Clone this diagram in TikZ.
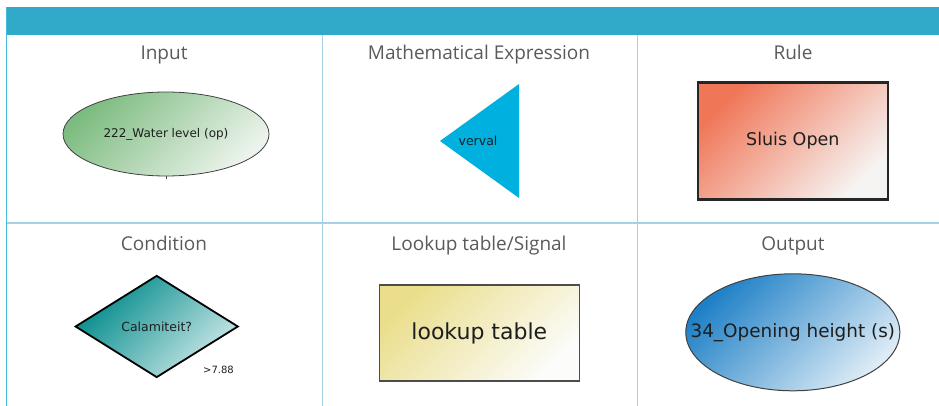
\documentclass[tikz,border=0pt]{standalone}
\usepackage{fontspec}
\setmainfont{DejaVu Sans}
\newfontfamily\hdrfont{Open Sans}
\usetikzlibrary{shapes.geometric}
\definecolor{hdrbar}{RGB}{48,170,200}
\definecolor{edgeblue}{RGB}{70,185,220}
\definecolor{gridblue}{RGB}{165,208,232}
\definecolor{hdrtext}{RGB}{90,90,90}
\definecolor{shtext}{RGB}{30,30,30}
\definecolor{ingreen}{RGB}{125,188,128}
\definecolor{inlight}{RGB}{236,243,236}
\definecolor{trifill}{RGB}{0,176,222}
\definecolor{rulered}{RGB}{240,118,88}
\definecolor{rulelight}{RGB}{246,244,242}
\definecolor{condteal}{RGB}{0,138,138}
\definecolor{condlight}{RGB}{205,232,232}
\definecolor{lookyel}{RGB}{234,222,140}
\definecolor{looklight}{RGB}{252,252,250}
\definecolor{outblue}{RGB}{30,128,198}
\definecolor{outlight}{RGB}{222,236,246}
\tikzset{
  hdr/.style={font=\hdrfont\fontsize{19}{22}\selectfont, text=hdrtext, inner sep=0, anchor=base},
  shapetxt/.style={text=shtext, inner sep=0},
  grad/.style 2 args={top color=#1, bottom color=#2, shading angle=45},
}
\begin{document}
\begin{tikzpicture}[x=1pt,y=-1pt]
\useasboundingbox (0,0) rectangle (939,406);
% table
\fill[hdrbar] (6,7) rectangle (939,35);
\draw[edgeblue, line width=1.5pt] (6.5,7) -- (6.5,406);
\draw[gridblue, line width=1pt] (322,35) -- (322,406);
\draw[gridblue, line width=1pt] (637,35) -- (637,406);
\draw[gridblue, line width=2pt] (7,223) -- (939,223);
% headers
\node[hdr] (h1) at (164,60) {Input};
\node[hdr] (h2) at (479,60) {Mathematical Expression};
\node[hdr] (h3) at (793,60) {Rule};
\node[hdr] (h4) at (164,250) {Condition};
\node[hdr] (h5) at (479,250) {Lookup table/Signal};
\node[hdr] (h6) at (793,250) {Output};
% input ellipse
\node[ellipse, draw=black!75, line width=0.8pt, grad={ingreen}{inlight},
      minimum width=206pt, minimum height=84pt, inner sep=0, text=shtext,
      font=\fontsize{12}{14}\selectfont] (inp) at (166,134) {222\_Water level (op)};
\draw[black!75, line width=0.8pt] (inp.south) -- ++(0,3);
% triangle
\fill[trifill] (440,141) -- (519,84) -- (519,198) -- cycle;
\node[shapetxt, font=\fontsize{12.5}{14}\selectfont] (tri) at (478,141) {verval};
% rule rectangle
\node[rectangle, draw=black!85, line width=2.6pt, grad={rulered}{rulelight},
      minimum width=190pt, minimum height=117pt, inner sep=0, text=shtext,
      font=\fontsize{17.5}{20}\selectfont] (rule) at (792.8,140.8) {Sluis Open};
% condition diamond
\node[diamond, draw=black, line width=1.8pt, grad={condteal}{condlight},
      minimum width=163pt, minimum height=102pt, inner sep=0, text=shtext,
      font=\fontsize{12.5}{14}\selectfont] (cond) at (156.7,326.5) {Calamiteit?};
\node[shapetxt, font=\fontsize{10}{12}\selectfont] (thr) at (218.5,370) {>7.88};
% lookup table
\node[rectangle, draw=black!70, line width=1.6pt, grad={lookyel}{looklight},
      minimum width=200pt, minimum height=96pt, inner sep=0, text=shtext,
      font=\fontsize{22}{26}\selectfont] (look) at (479.3,333) {lookup table};
% output ellipse
\node[ellipse, draw=black!75, line width=1pt, grad={outblue}{outlight},
      minimum width=214pt, minimum height=117pt, inner sep=0] (out) at (792.8,332.3) {};
\node[shapetxt, font=\fontsize{18.4}{21}\selectfont] (outt) at (out.center) {34\_Opening height (s)};
\end{tikzpicture}
\end{document}
